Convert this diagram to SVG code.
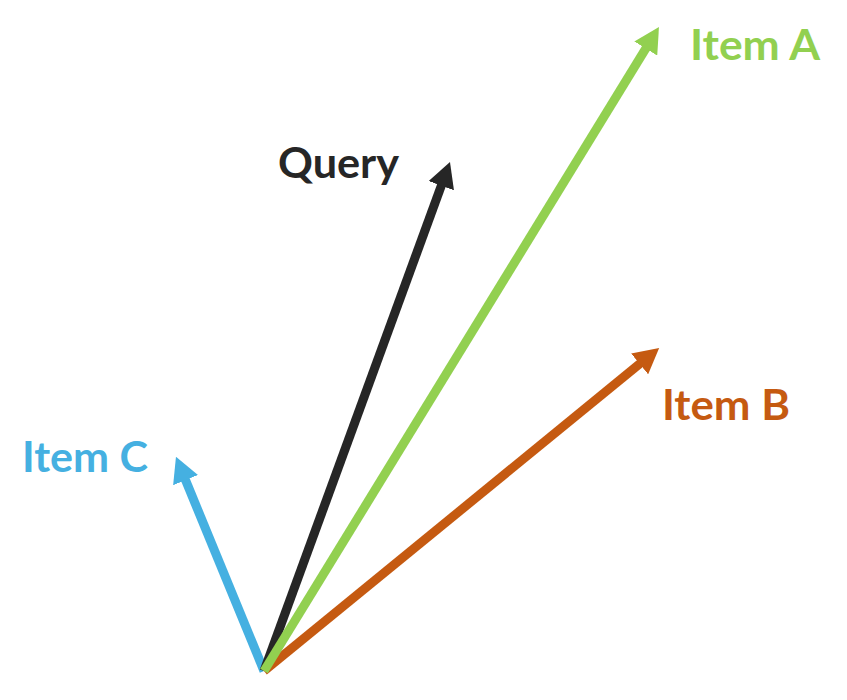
<svg xmlns="http://www.w3.org/2000/svg" width="847" height="700" viewBox="0 0 847 700">
<style>
.lbl{font-family:"Lato","Open Sans","Liberation Sans",sans-serif;font-weight:bold;font-size:42px}
.vec{stroke-width:9;fill:none;stroke-linecap:butt}
</style>
<defs>
<marker id="hA" viewBox="0 0 3 3.2" refX="0.3" refY="1.6" markerWidth="2.8" markerHeight="3.0" orient="auto"><path d="M0,0 L3,1.6 L0,3.2 z" fill="#92D050"/></marker>
<marker id="hQ" viewBox="0 0 3 3.2" refX="0.3" refY="1.6" markerWidth="2.8" markerHeight="3.0" orient="auto"><path d="M0,0 L3,1.6 L0,3.2 z" fill="#262626"/></marker>
<marker id="hB" viewBox="0 0 3 3.2" refX="0.3" refY="1.6" markerWidth="2.8" markerHeight="3.0" orient="auto"><path d="M0,0 L3,1.6 L0,3.2 z" fill="#C55A11"/></marker>
<marker id="hC" viewBox="0 0 3 3.2" refX="0.3" refY="1.6" markerWidth="2.8" markerHeight="3.0" orient="auto"><path d="M0,0 L3,1.6 L0,3.2 z" fill="#45B0E1"/></marker>
</defs>
<g id="connectors">
<line class="vec" x1="264" y1="671" x2="184.6" y2="477.8" stroke="#45B0E1" marker-end="url(#hC)"/>
<line class="vec" x1="264" y1="671" x2="442.2" y2="183.3" stroke="#262626" marker-end="url(#hQ)"/>
<line class="vec" x1="264" y1="671" x2="641.6" y2="362.3" stroke="#C55A11" marker-end="url(#hB)"/>
<line class="vec" x1="264" y1="671" x2="647.1" y2="46.4" stroke="#92D050" marker-end="url(#hA)"/>
</g>
<g id="itemA"><text class="lbl" x="690" y="60" fill="#92D050" textLength="130" lengthAdjust="spacingAndGlyphs">Item A</text></g>
<g id="query"><text class="lbl" x="278" y="178" fill="#262626" textLength="121" lengthAdjust="spacingAndGlyphs">Query</text></g>
<g id="itemB"><text class="lbl" x="662" y="420" fill="#C55A11" textLength="128" lengthAdjust="spacingAndGlyphs">Item B</text></g>
<g id="itemC"><text class="lbl" x="22" y="472" fill="#45B0E1" textLength="126" lengthAdjust="spacingAndGlyphs">Item C</text></g>
</svg>
